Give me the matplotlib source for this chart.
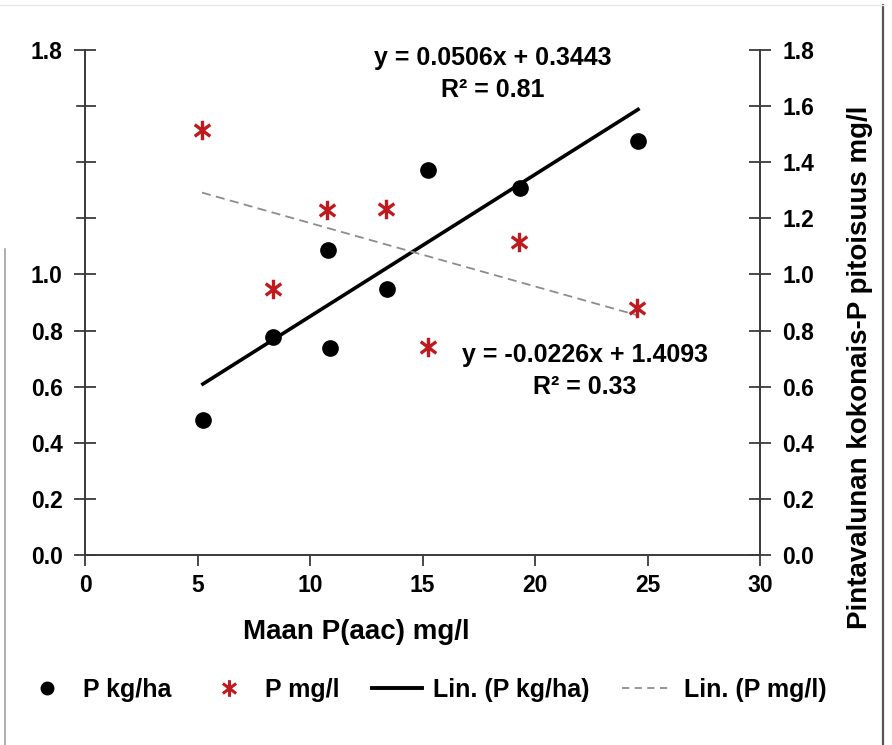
import numpy as np
import matplotlib
matplotlib.use("Agg")
import matplotlib.pyplot as plt
from matplotlib.path import Path
from matplotlib.lines import Line2D
from matplotlib.patches import Rectangle

plt.rcParams['font.family'] = ['Liberation Sans', 'DejaVu Sans']
plt.rcParams['font.weight'] = 'bold'

# ---- data ----
x_kg = [5.24, 8.36, 10.8, 10.9, 13.42, 15.24, 19.33, 24.58]
y_kg = [0.481, 0.777, 1.087, 0.738, 0.948, 1.372, 1.308, 1.475]
x_mg = [5.2, 8.36, 10.76, 13.38, 15.24, 19.29, 24.53]
y_mg = [1.515, 0.948, 1.229, 1.233, 0.741, 1.115, 0.88]
fit_kg = [0.0506, 0.3443]
fit_mg = [-0.0226, 1.4093]
eq_kg = ["y = 0.0506x + 0.3443", "R\u00b2 = 0.81"]
eq_mg = ["y = -0.0226x + 1.4093", "R\u00b2 = 0.33"]
x_ticks = [0, 5, 10, 15, 20, 25, 30]
y_ticks = [0.0, 0.2, 0.4, 0.6, 0.8, 1.0, 1.2, 1.4, 1.6, 1.8]
y_left_labels = ["0.0", "0.2", "0.4", "0.6", "0.8", "1.0", "1.2", "1.4", "1.6", "1.8"]
x_label = "Maan P(aac) mg/l"
y_right_label = "Pintavalunan kokonais-P pitoisuus mg/l"
legend_labels = ["P kg/ha", "P mg/l", "Lin. (P kg/ha)", "Lin. (P mg/l)"]

W, H = 892, 745
fig = plt.figure(figsize=(W / 100, H / 100), dpi=100)
ax = fig.add_axes([85 / W, 1 - 555 / H, (760 - 85) / W, (555 - 50) / H])
ax2 = ax.twinx()

axis_col = '#3a3a3a'
for a in (ax, ax2):
    a.set_xlim(0, 30)
    a.set_ylim(0, 1.8)
    a.spines['top'].set_visible(False)
    for s in a.spines.values():
        s.set_color(axis_col)
        s.set_linewidth(1.4)
ax.spines['right'].set_visible(False)
ax2.spines['left'].set_visible(False)
ax2.spines['bottom'].set_visible(False)

ax.set_xticks(x_ticks)
ax.set_xticklabels([str(v) for v in x_ticks])
ax.set_yticks(y_ticks)
ax.set_yticklabels(y_left_labels)
ax2.set_yticks(y_ticks)
ax2.set_yticklabels(["%.1f" % v for v in y_ticks])

ax.tick_params(axis='x', direction='out', length=8, width=1.3, color=axis_col,
               labelsize=16.5, pad=6)
ax.tick_params(axis='y', direction='inout', length=16, width=1.3, color=axis_col,
               labelsize=16.5, pad=8)
ax2.tick_params(axis='y', direction='inout', length=16, width=1.3, color=axis_col,
                labelsize=16.5, pad=8)
for lab in ax.get_xticklabels() + ax.get_yticklabels() + ax2.get_yticklabels():
    lab.set_fontweight('bold')

# asterisk marker (X plus vertical bar)
star = Path([(0, -1), (0, 1), (-0.8, -0.6), (0.8, 0.6), (-0.8, 0.6), (0.8, -0.6)],
            [Path.MOVETO, Path.LINETO, Path.MOVETO, Path.LINETO, Path.MOVETO, Path.LINETO])
red = '#c01a1f'

# trend lines
xs_kg = np.array([min(x_kg), max(x_kg)])
xs_mg = np.array([min(x_mg), max(x_mg)])
ax.plot(xs_kg, np.polyval(fit_kg, xs_kg), color='black', lw=2.6, zorder=3)
ax2.plot(xs_mg, np.polyval(fit_mg, xs_mg), color='#8c8c8c', lw=1.3,
         ls=(0, (5, 3)), zorder=3)

ax.plot(x_kg, y_kg, ls='none', marker='o', ms=11, color='black', zorder=4)
ax2.plot(x_mg, y_mg, ls='none', marker=star, ms=14, mew=2.4, color=red,
         mfc='none', zorder=4)

# equations
eq_fs = 18
ax.text(18.13, 1.771, eq_kg[0], ha='center', va='center', fontsize=eq_fs, fontweight='bold')
ax.text(18.13, 1.657, eq_kg[1], ha='center', va='center', fontsize=eq_fs, fontweight='bold')
ax.text(22.2, 0.713, eq_mg[0], ha='center', va='center', fontsize=eq_fs, fontweight='bold')
ax.text(22.2, 0.599, eq_mg[1], ha='center', va='center', fontsize=eq_fs, fontweight='bold')

fig.text(356 / W, 1 - 632 / H, x_label, ha='center', va='center', fontsize=20,
         fontweight='bold')
fig.text(860 / W, 1 - 367 / H, y_right_label, ha='center', va='center', fontsize=20,
         fontweight='bold', rotation=90)

# legend
h_dot = Line2D([], [], ls='none', marker='o', ms=9, color='black')
h_star = Line2D([], [], ls='none', marker=star, ms=12, mew=2.2, color=red, mfc='none')
h_l1 = Line2D([], [], color='black', lw=2.8)
h_l2 = Line2D([], [], color='#8c8c8c', lw=1.3, ls=(0, (4, 3)))
fig.legend([h_dot, h_star, h_l1, h_l2], legend_labels, loc='center',
           bbox_to_anchor=(424 / W, 1 - 690 / H), ncol=4, frameon=False,
           prop={'size': 18, 'weight': 'bold'}, handlelength=2.0,
           handletextpad=0.45, columnspacing=1.3, borderpad=0, borderaxespad=0)

# frame artifacts of the reference picture
fig.add_artist(Rectangle((0, 1 - 247 / H), 75 / W, (247 - 98) / H,
                         transform=fig.transFigure, color='white', zorder=10))
fig.add_artist(Line2D([5 / W, 5 / W], [0, 1 - 248 / H], transform=fig.transFigure,
                      color='#a0a0a0', lw=1.2))
fig.add_artist(Line2D([883 / W, 883 / W], [0, 1 - 5 / H], transform=fig.transFigure,
                      color='#555555', lw=1.6))
fig.add_artist(Line2D([0, 883 / W], [1 - 5 / H, 1 - 5 / H], transform=fig.transFigure,
                      color='#e6e6e6', lw=1.0))

fig.savefig('out.png', dpi=100)
